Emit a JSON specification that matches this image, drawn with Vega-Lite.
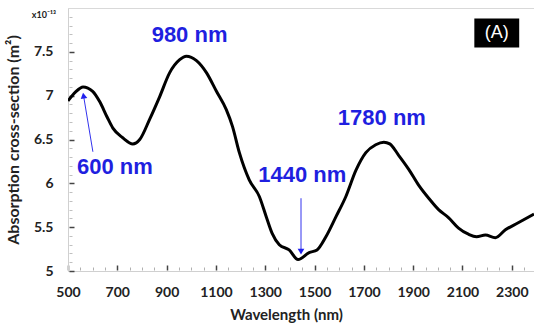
{
  "$schema": "https://vega.github.io/schema/vega-lite/v6.json",
  "width": 466,
  "height": 263,
  "autosize": {"type": "none"},
  "padding": {"left": 68, "top": 8, "right": 0, "bottom": 56},
  "background": "white",
  "config": {
    "view": {"stroke": "#d9d9d9", "strokeWidth": 1},
    "axis": {"labelFont": "Lato", "titleFont": "Lato", "grid": false}
  },
  "datasets": {
    "curve": [
      {"wl": 500, "cs": 6.94}, {"wl": 530, "cs": 7.04}, {"wl": 561, "cs": 7.10},
      {"wl": 600, "cs": 7.05}, {"wl": 629, "cs": 6.93}, {"wl": 658, "cs": 6.76},
      {"wl": 682, "cs": 6.63}, {"wl": 722, "cs": 6.52}, {"wl": 763, "cs": 6.45},
      {"wl": 791, "cs": 6.50}, {"wl": 831, "cs": 6.73}, {"wl": 872, "cs": 6.99},
      {"wl": 912, "cs": 7.26}, {"wl": 953, "cs": 7.41}, {"wl": 980, "cs": 7.45},
      {"wl": 1021, "cs": 7.40}, {"wl": 1062, "cs": 7.26}, {"wl": 1102, "cs": 7.05},
      {"wl": 1142, "cs": 6.84}, {"wl": 1167, "cs": 6.65}, {"wl": 1195, "cs": 6.35},
      {"wl": 1235, "cs": 6.04}, {"wl": 1276, "cs": 5.85}, {"wl": 1304, "cs": 5.62},
      {"wl": 1328, "cs": 5.43}, {"wl": 1357, "cs": 5.30}, {"wl": 1397, "cs": 5.24},
      {"wl": 1433, "cs": 5.13}, {"wl": 1478, "cs": 5.21}, {"wl": 1510, "cs": 5.24},
      {"wl": 1546, "cs": 5.39}, {"wl": 1587, "cs": 5.62}, {"wl": 1627, "cs": 5.85},
      {"wl": 1668, "cs": 6.15}, {"wl": 1708, "cs": 6.35}, {"wl": 1748, "cs": 6.44},
      {"wl": 1781, "cs": 6.47}, {"wl": 1805, "cs": 6.45}, {"wl": 1841, "cs": 6.32},
      {"wl": 1882, "cs": 6.16}, {"wl": 1922, "cs": 5.98}, {"wl": 1963, "cs": 5.83},
      {"wl": 2003, "cs": 5.70}, {"wl": 2043, "cs": 5.61}, {"wl": 2084, "cs": 5.49},
      {"wl": 2124, "cs": 5.42}, {"wl": 2157, "cs": 5.39}, {"wl": 2193, "cs": 5.41},
      {"wl": 2233, "cs": 5.38}, {"wl": 2274, "cs": 5.47}, {"wl": 2326, "cs": 5.55},
      {"wl": 2390, "cs": 5.65}
    ],
    "labels": [
      {"wl": 993, "cs": 7.69, "text": "980 nm"},
      {"wl": 690, "cs": 6.19, "text": "600 nm"},
      {"wl": 1450, "cs": 6.09, "text": "1440 nm"},
      {"wl": 1773, "cs": 6.75, "text": "1780 nm"}
    ],
    "arrows": [
      {"wl": 601, "cs": 6.36, "wl2": 563, "cs2": 7.0, "angle": -10},
      {"wl": 1445, "cs": 5.83, "wl2": 1445, "cs2": 5.22, "angle": 180}
    ],
    "box": [
      {"x1": 2148, "x2": 2330, "y1": 7.88, "y2": 7.55, "xm": 2239, "ym": 7.715, "text": "(A)"}
    ]
  },
  "resolve": {"axis": {"x": "independent", "y": "independent"}},
  "layer": [
    {
      "data": {"name": "curve"},
      "mark": {"type": "line", "color": "black", "strokeWidth": 3, "interpolate": "monotone", "clip": true},
      "encoding": {
        "x": {
          "field": "wl", "type": "quantitative",
          "scale": {"domain": [500, 2390], "nice": false, "zero": false},
          "axis": {
            "values": [500, 700, 900, 1100, 1300, 1500, 1700, 1900, 2100, 2300], "format": "d",
            "title": "Wavelength (nm)", "titleFontSize": 15, "titleFontWeight": "bold",
            "titleColor": "#222", "titlePadding": 8, "titleX": 218,
            "labelFontSize": 14, "labelFontWeight": "bold", "labelColor": "#222",
            "ticks": false, "labelPadding": 14,
            "domainColor": "#d0d0d0", "labelFlush": false
          }
        },
        "y": {
          "field": "cs", "type": "quantitative",
          "scale": {"domain": [5, 8], "nice": false, "zero": false},
          "axis": {
            "values": [5, 5.5, 6, 6.5, 7, 7.5], "format": "~g",
            "title": "Absorption cross-section (m²)", "titleFontSize": 16, "titleFontWeight": "bold",
            "titleColor": "#222", "titlePadding": 12,
            "labelFontSize": 14, "labelFontWeight": "bold", "labelColor": "#222",
            "ticks": false, "labelPadding": 15,
            "domainColor": "#d0d0d0"
          }
        }
      }
    },
    {
      "data": {"name": "arrows"},
      "mark": {"type": "rule", "color": "#3333ee", "strokeWidth": 1},
      "encoding": {
        "x": {"field": "wl", "type": "quantitative",
          "axis": {"orient": "top", "offset": -262,
            "values": [500, 700, 900, 1100, 1300, 1500, 1700, 1900, 2100, 2300],
            "labels": false, "title": null, "domain": false,
            "tickSize": 5, "tickColor": "#444", "tickWidth": 1.5}},
        "y": {"field": "cs", "type": "quantitative",
          "axis": {"orient": "right", "offset": -465,
            "values": [5, 5.5, 6, 6.5, 7, 7.5],
            "labels": false, "title": null, "domain": false,
            "tickSize": 5, "tickColor": "#444", "tickWidth": 1.5}},
        "x2": {"field": "wl2"},
        "y2": {"field": "cs2"}
      }
    },
    {
      "data": {"name": "arrows"},
      "mark": {"type": "point", "shape": "triangle-up", "filled": true, "color": "#2020ee", "size": 45, "opacity": 1},
      "encoding": {
        "x": {"field": "wl2", "type": "quantitative",
          "axis": {"orient": "top", "offset": -262,
            "values": [550, 600, 650, 750, 800, 850, 950, 1000, 1050, 1150, 1200, 1250, 1350, 1400, 1450, 1550, 1600, 1650, 1750, 1800, 1850, 1950, 2000, 2050, 2150, 2200, 2250, 2350],
            "labels": false, "title": null, "domain": false,
            "tickSize": 3, "tickColor": "#b0b0b0", "tickWidth": 1}},
        "y": {"field": "cs2", "type": "quantitative",
          "axis": {"orient": "right", "offset": -465,
            "values": [5.1, 5.2, 5.3, 5.4, 5.6, 5.7, 5.8, 5.9, 6.1, 6.2, 6.3, 6.4, 6.6, 6.7, 6.8, 6.9, 7.1, 7.2, 7.3, 7.4, 7.6, 7.7, 7.8, 7.9],
            "labels": false, "title": null, "domain": false,
            "tickSize": 3, "tickColor": "#c0c0c0", "tickWidth": 1}},
        "angle": {"field": "angle", "type": "quantitative", "scale": null}
      }
    },
    {
      "data": {"name": "labels"},
      "mark": {"type": "text", "font": "Liberation Sans", "fontWeight": "bold", "fontSize": 22, "color": "#1f1fe0", "baseline": "middle", "align": "center"},
      "encoding": {
        "x": {"field": "wl", "type": "quantitative", "axis": null},
        "y": {"field": "cs", "type": "quantitative", "axis": null},
        "text": {"field": "text"}
      }
    },
    {
      "data": {"name": "box"},
      "mark": {"type": "rect", "color": "black"},
      "encoding": {
        "x": {"field": "x1", "type": "quantitative", "axis": null},
        "x2": {"field": "x2"},
        "y": {"field": "y1", "type": "quantitative", "axis": null},
        "y2": {"field": "y2"}
      }
    },
    {
      "data": {"name": "box"},
      "mark": {"type": "text", "color": "white", "font": "Liberation Sans", "fontSize": 18, "baseline": "middle", "align": "center"},
      "encoding": {
        "x": {"field": "xm", "type": "quantitative", "axis": null},
        "y": {"field": "ym", "type": "quantitative", "axis": null},
        "text": {"field": "text"}
      }
    },
    {
      "data": {"values": [{"x": 500, "y": 8, "t": "x10⁻¹³"}]},
      "mark": {"type": "text", "color": "#222", "font": "Lato", "fontWeight": "bold", "fontSize": 9, "baseline": "middle", "align": "right", "dx": -12, "dy": 7, "clip": false},
      "encoding": {
        "x": {"field": "x", "type": "quantitative", "axis": null},
        "y": {"field": "y", "type": "quantitative", "axis": null},
        "text": {"field": "t"}
      }
    }
  ]
}
